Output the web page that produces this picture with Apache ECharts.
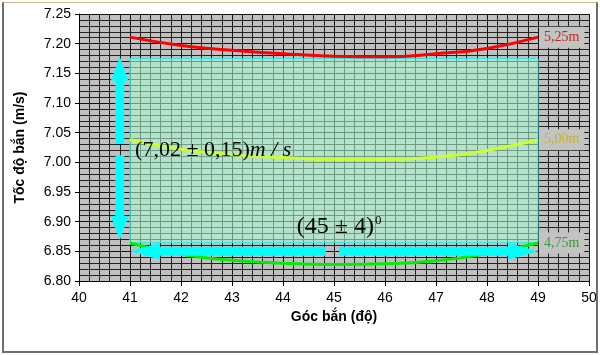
<!DOCTYPE html>
<html style="height: 100%">
    <head>
        <meta charset="utf-8">
        <style>
            body { margin: 0; background: #f4e7c9; }
            #frame { position: absolute; left: 2px; top: 2px; width: 596px; height: 351px; box-sizing: border-box;
                     border-top: 1px solid #c9b88d; border-left: 2px solid #6e6e6e; border-right: 2px solid #6e6e6e; border-bottom: 2px solid #6e6e6e;
                     pointer-events: none; }
        </style>
    </head>
    <body>
        <div id="container" style="position: absolute; left: 0; top: 0; width: 600px; height: 355px"></div>
        <div id="frame"></div>

        <script type="text/javascript" src="https://cdn.jsdelivr.net/npm/echarts@6/dist/echarts.min.js"></script>

        <script type="text/javascript">
var angles = [41, 42, 43, 44, 45, 46, 47, 48, 49];
var v525 = [7.211, 7.197, 7.189, 7.183, 7.179, 7.178, 7.183, 7.192, 7.211];
var v500 = [7.038, 7.022, 7.013, 7.008, 7.005, 7.005, 7.009, 7.020, 7.038];
var v475 = [6.864, 6.845, 6.835, 6.830, 6.828, 6.829, 6.834, 6.846, 6.864];

// vùng sai số: [x1, y1, x2, y2]
var errorBox = [[41, 6.865, 49, 7.175]];
// mũi tên: [x từ, y từ, x tới, y tới]
var arrows = [
    [40.8, 7.031, 40.8, 7.178],
    [40.8, 7.012, 40.8, 6.869],
    [44.84, 6.85, 41.0, 6.85],
    [45.10, 6.85, 49.0, 6.85]
];
// chú thích: [x, y, chỉ số]
var notes = [[41.1, 7.021, 0], [44.27, 6.891, 1]];
var noteTexts = ['{n|(7,02 ± 0,15)}{i|m / s}', '{b|(45 ± 4)}{s|0}'];

function pair(ys) {
    return angles.map(function (a, i) { return [a, ys[i]]; });
}

var dom = document.getElementById("container");
var myChart = echarts.init(dom);
var option;

var serif = 'Liberation Serif';
var sans = 'Liberation Sans';

function lineSeries(name, data, color, labelColor) {
    return {
        name: name,
        type: 'line',
        data: data,
        showSymbol: false,
        smooth: true,
        z: 3,
        lineStyle: { color: color, width: 3 },
        endLabel: {
            show: true,
            formatter: name,
            distance: 1,
            backgroundColor: '#c3c3c3',
            padding: [4, 5, 3, 5],
            color: labelColor,
            fontFamily: serif,
            fontSize: 14
        },
        animation: false
    };
}

option = {
    animation: false,
    backgroundColor: '#ffffff',
    grid: { left: 79, right: 11, top: 14, bottom: 74, show: true, backgroundColor: '#c0c0c0', borderWidth: 0 },
    xAxis: {
        type: 'value',
        min: 40, max: 50, interval: 1,
        name: 'Góc bắn (độ)',
        nameLocation: 'middle',
        nameGap: 27,
        nameTextStyle: { fontFamily: sans, fontSize: 14, fontWeight: 'bold', color: '#000' },
        axisLine: { onZero: false, lineStyle: { color: '#000' } },
        axisTick: { show: true, length: 5, lineStyle: { color: '#000' } },
        axisLabel: { fontFamily: sans, fontSize: 14, color: '#000', margin: 10 },
        splitLine: { show: true, lineStyle: { color: '#111', width: 1 } },
        minorTick: { show: false, splitNumber: 5 },
        minorSplitLine: { show: true, lineStyle: { color: '#222', width: 1 } }
    },
    yAxis: {
        type: 'value',
        min: 6.8, max: 7.25, interval: 0.05,
        name: 'Tốc độ bắn (m/s)',
        nameLocation: 'middle',
        nameGap: 52,
        nameTextStyle: { fontFamily: sans, fontSize: 14, fontWeight: 'bold', color: '#000' },
        axisLine: { show: true, lineStyle: { color: '#000' } },
        axisTick: { show: true, length: 4, lineStyle: { color: '#000' } },
        axisLabel: { fontFamily: sans, fontSize: 14, color: '#000', margin: 8,
            formatter: function (v) { return v.toFixed(2); } },
        splitLine: { show: true, lineStyle: { color: '#111', width: 1 } },
        minorTick: { show: false, splitNumber: 5 },
        minorSplitLine: { show: true, lineStyle: { color: '#222', width: 1 } }
    },
    series: [
        {
            type: 'custom',
            z: 1,
            data: errorBox,
            renderItem: function (params, api) {
                var p1 = api.coord([api.value(0), api.value(3)]);
                var p2 = api.coord([api.value(2), api.value(1)]);
                return {
                    type: 'rect',
                    shape: { x: p1[0], y: p1[1], width: p2[0] - p1[0], height: p2[1] - p1[1] },
                    style: { fill: 'rgba(169,251,208,0.56)', stroke: '#33e6e6', lineWidth: 1 }
                };
            },
            animation: false
        },
        lineSeries('5,25m', pair(v525), '#ff0000', '#c0281a'),
        lineSeries('5,00m', pair(v500), '#ccff33', '#c8b424'),
        lineSeries('4,75m', pair(v475), '#00ee00', '#3a9a3a'),
        {
            type: 'custom',
            z: 4,
            data: arrows,
            renderItem: function (params, api) {
                var a = api.coord([api.value(0), api.value(1)]);
                var b = api.coord([api.value(2), api.value(3)]);
                var dx = b[0] - a[0], dy = b[1] - a[1];
                var len = Math.sqrt(dx * dx + dy * dy);
                var ux = dx / len, uy = dy / len;
                var nx = -uy, ny = ux;
                var horiz = Math.abs(dx) > Math.abs(dy);
                var hl = horiz ? 30 : 24, hw = horiz ? 8.5 : 9, sw = 4.5;
                var bx = b[0] - ux * hl, by = b[1] - uy * hl;
                var pts = [
                    [a[0] + nx * sw, a[1] + ny * sw],
                    [bx + nx * sw, by + ny * sw],
                    [bx + nx * hw, by + ny * hw],
                    [b[0], b[1]],
                    [bx - nx * hw, by - ny * hw],
                    [bx - nx * sw, by - ny * sw],
                    [a[0] - nx * sw, a[1] - ny * sw]
                ];
                return { type: 'polygon', shape: { points: pts }, style: { fill: '#00ffff' } };
            },
            animation: false
        },
        {
            type: 'custom',
            z: 5,
            data: notes,
            renderItem: function (params, api) {
                var p = api.coord([api.value(0), api.value(1)]);
                return {
                    type: 'text',
                    x: p[0], y: p[1],
                    style: {
                        text: noteTexts[api.value(2)],
                        verticalAlign: 'middle',
                        align: 'left',
                        rich: {
                            n: { fontFamily: serif, fontSize: 22, fill: '#000' },
                            b: { fontFamily: serif, fontSize: 24, fill: '#000' },
                            i: { fontFamily: serif, fontSize: 22, fontStyle: 'italic', fill: '#000' },
                            s: { fontFamily: serif, fontSize: 13, fill: '#000', verticalAlign: 'top', padding: [0, 0, 12, 1] }
                        }
                    }
                };
            },
            animation: false
        }
    ]
};

if (option && typeof option === 'object') {
    myChart.setOption(option);
}
        </script>
    </body>
</html>
